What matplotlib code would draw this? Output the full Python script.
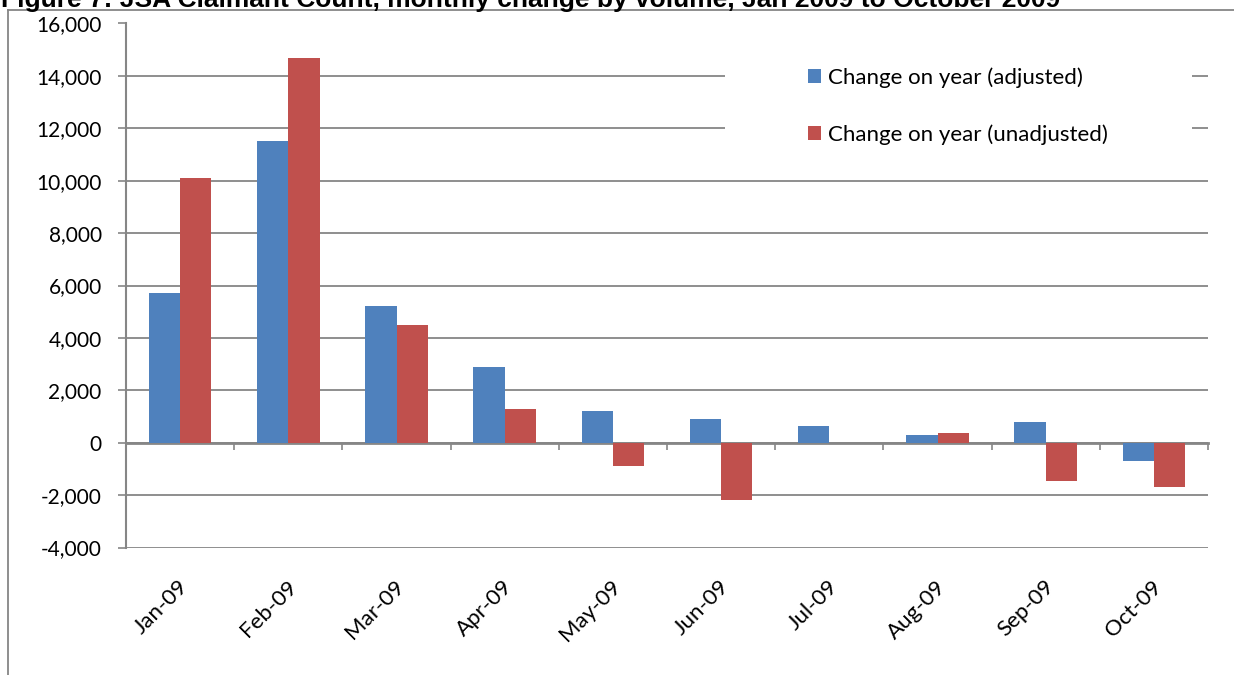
import matplotlib
matplotlib.use("Agg")
import matplotlib.pyplot as plt
from matplotlib.patches import Rectangle
from matplotlib.lines import Line2D
from matplotlib.transforms import ScaledTranslation
import numpy as np

# Monthly claimant count change on a year earlier
months = ["Jan-09", "Feb-09", "Mar-09", "Apr-09", "May-09",
          "Jun-09", "Jul-09", "Aug-09", "Sep-09", "Oct-09"]
adjusted = [5700, 11500, 5200, 2900, 1200, 900, 650, 300, 800, -700]
unadjusted = [10100, 14700, 4500, 1300, -900, -2200, 0, 380, -1450, -1700]
series_names = ["Change on year (adjusted)", "Change on year (unadjusted)"]

y_ticks = [-4000, -2000, 0, 2000, 4000, 6000, 8000, 10000, 12000, 14000, 16000]
y_tick_labels = ["-4,000", "-2,000", "0", "2,000", "4,000", "6,000",
                 "8,000", "10,000", "12,000", "14,000", "16,000"]

title = "Figure 7: JSA Claimant Count, monthly change by volume, Jan 2009 to October 2009"

BLUE = "#4F81BD"
RED = "#C0504D"
GRID = "#868686"

plt.rcParams["font.family"] = ["Lato", "DejaVu Sans"]

W, H = 1234, 675
fig = plt.figure(figsize=(W / 100, H / 100), dpi=100)

left, right, top, bottom = 126, 1208, 23.5, 547.5
ax = fig.add_axes([left / W, 1 - bottom / H, (right - left) / W, (bottom - top) / H])

x = np.arange(len(months))
width = 0.29
bars_adj = ax.bar(x - width / 2, adjusted, width, color=BLUE, linewidth=0,
                  label=series_names[0], zorder=3)
bars_unadj = ax.bar(x + width / 2, unadjusted, width, color=RED, linewidth=0,
                    label=series_names[1], zorder=3)

ax.set_xlim(-0.5, len(months) - 0.5)
ax.set_ylim(y_ticks[0], y_ticks[-1])

# value axis
ax.set_yticks(y_ticks)
ax.set_yticklabels(y_tick_labels)
ax.yaxis.grid(True, color=GRID, linewidth=1.3)
ax.set_axisbelow(True)
for side in ("top", "right", "bottom"):
    ax.spines[side].set_visible(False)
ax.spines["left"].set_color(GRID)
ax.spines["left"].set_linewidth(1.5)
ax.tick_params(axis="y", direction="out", length=5.5, width=1.2, color=GRID,
               pad=12, labelsize=15, labelcolor="black")

# category labels below the plot
ax.set_xticks(x)
ax.set_xticklabels(months, rotation=45, ha="right", rotation_mode="anchor")
ax.tick_params(axis="x", length=0, pad=21, labelsize=16, labelcolor="black")
shift = ScaledTranslation(-0.02, 0, fig.dpi_scale_trans)
for lab in ax.get_xticklabels():
    lab.set_transform(lab.get_transform() + shift)

# category axis line crossing at zero, with ticks between categories
zero_pos = (0 - y_ticks[0]) / (y_ticks[-1] - y_ticks[0])
zero_axis = ax.secondary_xaxis(zero_pos)
zero_axis.set_xticks(np.arange(0.5, len(months), 1.0))
zero_axis.tick_params(axis="x", direction="out", length=5, width=1.2,
                      color=GRID, labelbottom=False, labeltop=False)
zero_axis.spines["bottom"].set_color(GRID)
zero_axis.spines["bottom"].set_linewidth(2)

# legend on a white panel
ax.add_patch(Rectangle((0.5536, 0.73), 0.4316, 0.2385, transform=ax.transAxes,
                       facecolor="white", edgecolor="none", zorder=2))
ax.legend(handles=[bars_adj, bars_unadj], loc="center left",
          bbox_to_anchor=(0.630, 0.843), frameon=False, borderpad=0,
          borderaxespad=0, handlelength=0.62, handleheight=0.62,
          handletextpad=0.3, labelspacing=1.64, fontsize=16)

# title and outer frame
fig.text(1 / W, 1 - 6.5 / H, title, ha="left", va="baseline",
         family=["Liberation Sans", "DejaVu Sans"], fontweight="bold", fontsize=19)
fig.add_artist(Line2D([7.5 / W, 7.5 / W], [0, 1 - 9.5 / H], color=GRID, linewidth=1.3))
fig.add_artist(Line2D([7.5 / W, 1], [1 - 9.5 / H, 1 - 9.5 / H], color=GRID, linewidth=1.3))

fig.savefig("out.png", dpi=100)
